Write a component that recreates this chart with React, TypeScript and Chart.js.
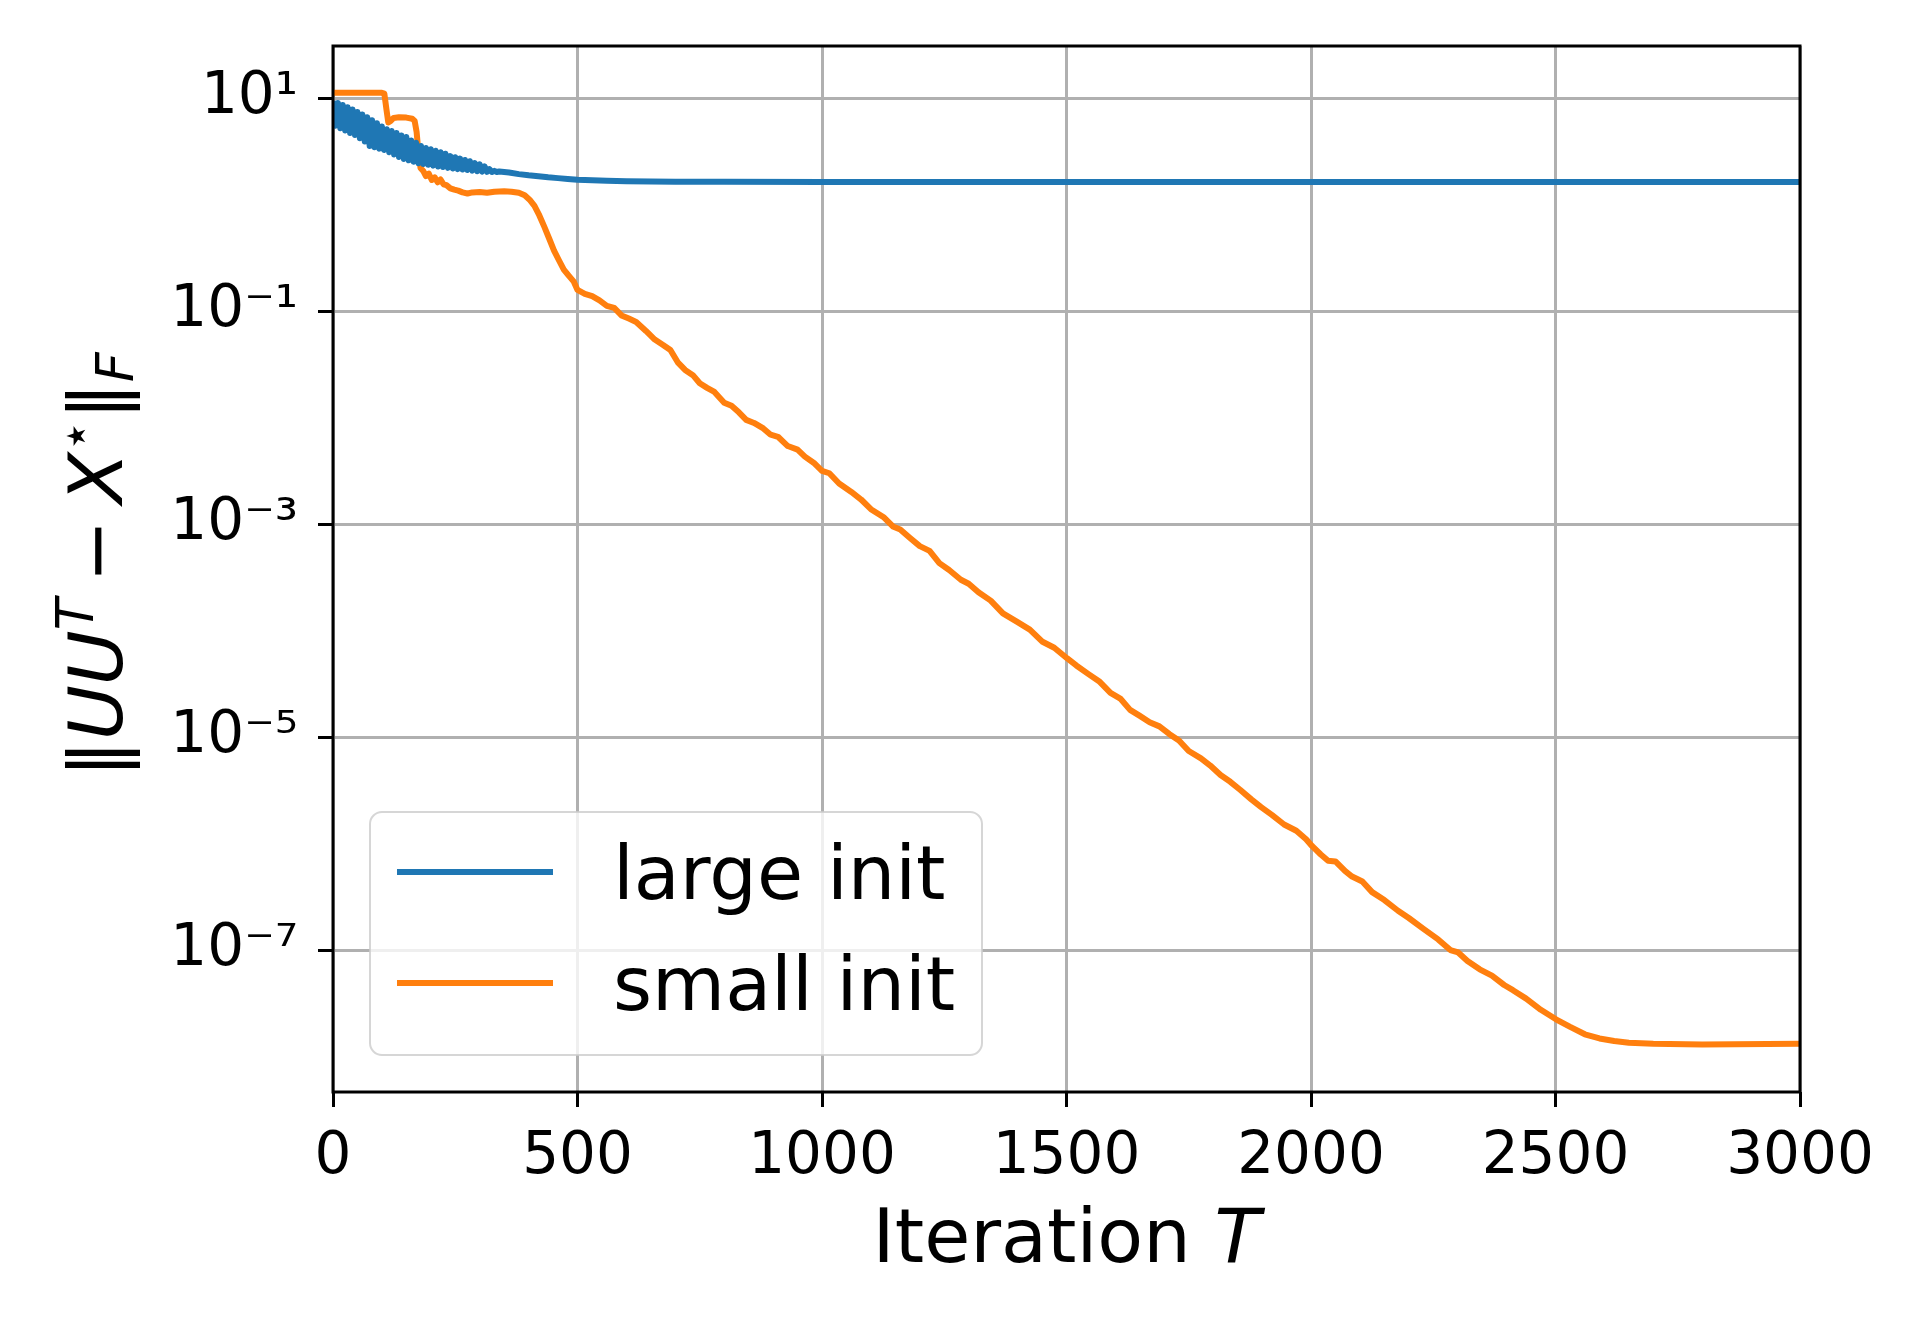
import React, { useEffect, useRef } from 'react';
import { Chart, registerables } from 'chart.js';

Chart.register(...registerables);

const FONT = '"DejaVu Sans", "Liberation Sans", sans-serif';

const seriesLabels = ['large init', 'small init'];
const seriesColors = ['#1f77b4', '#ff7f0e'];

const xTickValues = [0, 500, 1000, 1500, 2000, 2500, 3000];
const yTickValues = [10, 0.1, 1e-3, 1e-5, 1e-7];
const yTickLabels = ['10¹', '10⁻¹', '10⁻³', '10⁻⁵', '10⁻⁷'];

const xLimits = [0, 3000];
const yLimits = [4.65e-9, 30.8];

// large init
const largeIter = [
  0, 5, 10, 15, 20, 25, 30, 35, 40, 45,
  50, 55, 60, 65, 70, 75, 80, 85, 90, 95,
  100, 105, 110, 115, 120, 125, 130, 135, 140, 145,
  150, 155, 160, 165, 170, 175, 180, 185, 190, 195,
  200, 205, 210, 215, 220, 225, 230, 235, 240, 245,
  250, 255, 260, 265, 270, 275, 280, 285, 290, 295,
  300, 305, 310, 315, 320, 325, 330, 335,
  340, 360, 380, 400, 420, 440, 460, 480, 500, 530,
  560, 600, 650, 700, 800, 1000, 3000,
];
const largeVal = [
  9.4, 5.5, 9.0, 5.2, 8.6, 4.95, 8.2, 4.7, 7.8, 4.5,
  7.4, 4.2, 7.0, 3.9, 6.6, 3.55, 6.2, 3.45, 5.8, 3.35,
  5.4, 3.25, 5.1, 3.1, 4.9, 2.95, 4.7, 2.8, 4.45, 2.68,
  4.3, 2.6, 4.0, 2.52, 3.8, 2.44, 3.55, 2.4, 3.4, 2.36,
  3.3, 2.32, 3.2, 2.28, 3.1, 2.25, 3.0, 2.21, 2.85, 2.18,
  2.78, 2.15, 2.7, 2.13, 2.62, 2.11, 2.55, 2.08, 2.45, 2.06,
  2.38, 2.04, 2.28, 2.03, 2.15, 2.02, 2.07, 2.02,
  2.04, 2.0, 1.93, 1.88, 1.84, 1.8, 1.77, 1.74, 1.71, 1.69,
  1.67, 1.655, 1.645, 1.64, 1.635, 1.63, 1.63,
];

// small init
const smallIter = [
  0, 100, 105, 109, 113, 118, 124, 135, 150, 162,
  167, 171, 175, 179, 185, 190, 196, 202, 208, 214,
  220, 226, 232, 240, 248, 256, 265, 275, 285, 300,
  315, 330, 350, 365, 380, 392, 402, 412, 422, 432,
  442, 452, 462, 472, 482, 492, 500, 515, 530, 545,
  560, 575, 590, 605, 620, 640, 658, 675, 690, 705,
  720, 736, 750, 765, 780, 800, 815, 830, 845, 861,
  880, 895, 910, 930, 950, 965, 985, 1000, 1015, 1035,
  1060, 1080, 1100, 1127, 1145, 1160, 1180, 1200, 1220, 1240,
  1260, 1284, 1300, 1320, 1345, 1370, 1400, 1425, 1450, 1475,
  1501, 1520, 1545, 1568, 1590, 1610, 1630, 1650, 1670, 1690,
  1710, 1730, 1750, 1775, 1794, 1815, 1835, 1855, 1878, 1898,
  1920, 1945, 1970, 1990, 2002, 2020, 2035, 2050, 2070, 2084,
  2105, 2125, 2150, 2178, 2200, 2230, 2260, 2285, 2301, 2320,
  2345, 2370, 2395, 2413, 2440, 2470, 2501, 2530, 2560, 2590,
  2620, 2650, 2700, 2800, 3000,
];
const smallVal = [
  11.2, 11.2, 11.0, 8.0, 5.9, 6.1, 6.5, 6.6, 6.55, 6.4,
  6.1, 4.8, 3.0, 2.2, 2.05, 1.85, 1.95, 1.7, 1.8, 1.62,
  1.72, 1.55, 1.52, 1.42, 1.38, 1.35, 1.3, 1.27, 1.3, 1.31,
  1.29, 1.32, 1.33, 1.32, 1.29, 1.22, 1.11, 0.97, 0.79, 0.62,
  0.48, 0.37, 0.3, 0.245, 0.215, 0.19, 0.158, 0.145, 0.138, 0.126,
  0.112, 0.107, 0.091, 0.085, 0.079, 0.065, 0.054, 0.048, 0.043, 0.033,
  0.028, 0.025, 0.021, 0.019, 0.0174, 0.0138, 0.0129, 0.0112, 0.0095, 0.0089,
  0.0079, 0.0069, 0.0066, 0.0054, 0.005, 0.0043, 0.0037, 0.00316, 0.003, 0.0024,
  0.002, 0.0017, 0.00138, 0.00115, 0.00095, 0.00089, 0.00074, 0.00062, 0.00056, 0.00043,
  0.00037, 0.0003, 0.000275, 0.000229, 0.000191, 0.000145, 0.00012, 0.000102, 7.9e-5, 6.9e-5,
  5.5e-5, 4.7e-5, 3.9e-5, 3.3e-5, 2.6e-5, 2.3e-5, 1.8e-5, 1.58e-5, 1.38e-5, 1.26e-5,
  1.07e-5, 9.3e-6, 7.4e-6, 6.3e-6, 5.4e-6, 4.4e-6, 3.8e-6, 3.2e-6, 2.6e-6, 2.2e-6,
  1.86e-6, 1.51e-6, 1.32e-6, 1.1e-6, 9.5e-7, 7.9e-7, 6.9e-7, 6.8e-7, 5.5e-7, 4.9e-7,
  4.4e-7, 3.5e-7, 2.95e-7, 2.34e-7, 2.0e-7, 1.58e-7, 1.26e-7, 1.0e-7, 9.5e-8, 7.9e-8,
  6.6e-8, 5.75e-8, 4.7e-8, 4.2e-8, 3.5e-8, 2.75e-8, 2.24e-8, 1.9e-8, 1.62e-8, 1.48e-8,
  1.4e-8, 1.35e-8, 1.32e-8, 1.3e-8, 1.32e-8,
];

type Piece = { t?: string; font?: string; dy?: number; gap?: number };

function drawPieces(ctx: CanvasRenderingContext2D, pieces: Piece[], centerX: number, baseY: number) {
  let total = 0;
  const widths: number[] = [];
  for (const p of pieces) {
    if (p.gap !== undefined) {
      widths.push(p.gap);
      total += p.gap;
    } else {
      ctx.font = p.font!;
      const w = ctx.measureText(p.t!).width;
      widths.push(w);
      total += w;
    }
  }
  let x = centerX - total / 2;
  ctx.textAlign = 'left';
  ctx.textBaseline = 'alphabetic';
  pieces.forEach((p, i) => {
    if (p.t) {
      ctx.font = p.font!;
      ctx.fillText(p.t, x, baseY + (p.dy || 0));
    }
    x += widths[i];
  });
}

const overlayPlugin = {
  id: 'overlay',
  afterDatasetsDraw(chart: any) {
    const { ctx, chartArea: ca } = chart;
    ctx.save();
    // frame (all four spines)
    ctx.strokeStyle = '#000';
    ctx.lineWidth = 3;
    ctx.strokeRect(ca.left, ca.top, ca.right - ca.left, ca.bottom - ca.top);

    // legend
    const lw = 612, lh = 243;
    const lx = ca.left + 37;
    const ly = ca.bottom - 37 - lh;
    ctx.beginPath();
    (ctx as any).roundRect(lx, ly, lw, lh, 12);
    ctx.fillStyle = 'rgba(255,255,255,0.8)';
    ctx.fill();
    ctx.strokeStyle = 'rgba(204,204,204,0.8)';
    ctx.lineWidth = 2;
    ctx.stroke();
    chart.data.datasets.forEach((ds: any, i: number) => {
      const y = ly + 60 + i * 111;
      ctx.beginPath();
      ctx.moveTo(lx + 27, y);
      ctx.lineTo(lx + 183, y);
      ctx.strokeStyle = ds.borderColor;
      ctx.lineWidth = 6;
      ctx.lineCap = 'butt';
      ctx.stroke();
      ctx.fillStyle = '#000';
      ctx.font = `75px ${FONT}`;
      ctx.textAlign = 'left';
      ctx.textBaseline = 'alphabetic';
      ctx.fillText(ds.label, lx + 243, y + 27);
    });
    ctx.restore();
  },
  afterDraw(chart: any) {
    const { ctx, chartArea: ca } = chart;
    ctx.save();
    ctx.fillStyle = '#000';
    // x title
    drawPieces(
      ctx,
      [
        { t: 'Iteration ', font: `75px ${FONT}` },
        { t: 'T', font: `italic 75px ${FONT}` },
      ],
      (ca.left + ca.right) / 2,
      1262
    );
    // y title (rotated)
    ctx.translate(122, (ca.top + ca.bottom) / 2 - 4);
    ctx.rotate(-Math.PI / 2);
    const big = `75px ${FONT}`;
    const bigI = `italic 75px ${FONT}`;
    const sm = `52px ${FONT}`;
    const smI = `italic 52px ${FONT}`;
    drawPieces(
      ctx,
      [
        { t: '‖', font: big },
        { t: 'UU', font: bigI },
        { t: 'T', font: smI, dy: -29 },
        { gap: 16 },
        { t: '−', font: big },
        { gap: 16 },
        { t: 'X', font: bigI },
        { t: '⋆', font: sm, dy: -29 },
        { t: '‖', font: big },
        { t: 'F', font: smI, dy: 11 },
      ],
      0,
      0
    );
    ctx.restore();
  },
};

export default function App() {
  const ref = useRef<HTMLCanvasElement | null>(null);

  useEffect(() => {
    document.body.style.margin = '0';
    const canvas = ref.current;
    if (!canvas) return;

    const datasets = [
      { label: seriesLabels[0], iter: largeIter, val: largeVal, color: seriesColors[0] },
      { label: seriesLabels[1], iter: smallIter, val: smallVal, color: seriesColors[1] },
    ].map((s) => ({
      label: s.label,
      data: s.iter.map((x, i) => ({ x, y: s.val[i] })),
      borderColor: s.color,
      backgroundColor: s.color,
      borderWidth: 6,
      pointRadius: 0,
      tension: 0,
      fill: false,
      borderJoinStyle: 'round' as const,
      borderCapStyle: 'butt' as const,
    }));

    const gridCfg = {
      color: '#b0b0b0',
      lineWidth: 3,
      tickColor: '#000',
      tickWidth: 3,
      tickLength: 15,
      drawTicks: true,
    };

    const chart = new Chart(canvas, {
      type: 'line',
      data: { datasets },
      plugins: [overlayPlugin],
      options: {
        responsive: false,
        animation: false,
        devicePixelRatio: 1,
        layout: { padding: { left: 0, right: 120, top: 46, bottom: 0 } },
        plugins: {
          legend: { display: false },
          tooltip: { enabled: false },
          title: { display: false },
        },
        scales: {
          x: {
            type: 'linear',
            min: xLimits[0],
            max: xLimits[1],
            afterBuildTicks: (s: any) => {
              s.ticks = xTickValues.map((v) => ({ value: v }));
            },
            afterFit: (s: any) => {
              s.height = 228;
            },
            ticks: {
              autoSkip: false,
              maxRotation: 0,
              padding: 16,
              color: '#000',
              font: { family: FONT, size: 58 },
              callback: (v: any) => String(v),
            },
            grid: gridCfg,
            border: { display: false },
          },
          y: {
            type: 'logarithmic',
            min: yLimits[0],
            max: yLimits[1],
            afterBuildTicks: (s: any) => {
              s.ticks = yTickValues.map((v) => ({ value: v }));
            },
            afterFit: (s: any) => {
              s.width = 333;
              s.paddingTop = 0;
              s.paddingBottom = 0;
            },
            ticks: {
              autoSkip: false,
              padding: 20,
              color: '#000',
              font: { family: FONT, size: 58 },
              callback: (_v: any, i: number) => yTickLabels[i],
            },
            grid: gridCfg,
            border: { display: false },
          },
        },
      } as any,
    });

    return () => chart.destroy();
  }, []);

  return (
    <div style={{ width: 1920, height: 1320 }}>
      <canvas ref={ref} width={1920} height={1320} style={{ display: 'block', width: 1920, height: 1320 }} />
    </div>
  );
}
